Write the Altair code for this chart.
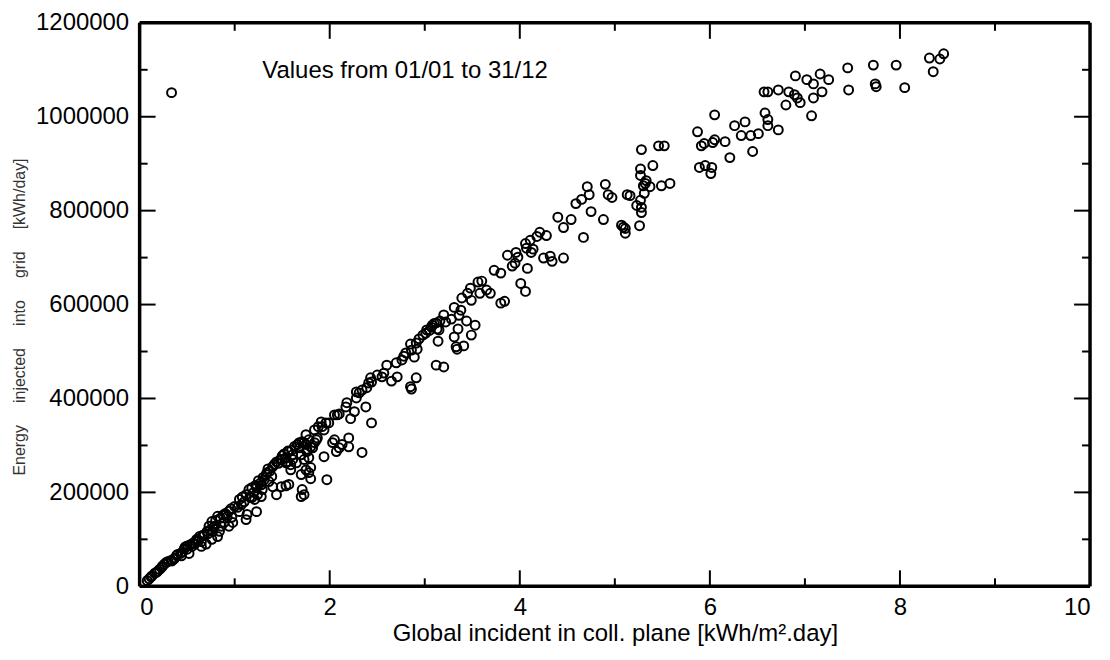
import altair as alt
import pandas as pd

# Global incident in collector plane [kWh/m2.day]
gi = [
    0.08, 0.10, 0.12, 0.13, 0.16, 0.18, 0.19, 0.21, 0.23, 0.24, 0.26, 0.28, 0.30, 0.33, 0.34, 0.36, 0.37,
    0.39, 0.40, 0.43, 0.44, 0.45, 0.47, 0.48, 0.50, 0.50, 0.52, 0.53, 0.55, 0.56, 0.58, 0.59, 0.60, 0.62,
    0.63, 0.65, 0.65, 0.66, 0.68, 0.70, 0.71, 0.72, 0.73, 0.74, 0.76, 0.76, 0.77, 0.78, 0.79, 0.80, 0.82,
    0.82, 0.84, 0.85, 0.86, 0.88, 0.89, 0.90, 0.91, 0.92, 0.94, 0.94, 0.96, 0.97, 0.98, 1.00,
    1.03, 1.05, 1.05, 1.07, 1.08, 1.10, 1.12, 1.12, 1.13, 1.15, 1.16, 1.18, 1.18, 1.20, 1.21, 1.22, 1.23,
    1.23, 1.24, 1.25, 1.27, 1.28, 1.28, 1.29, 1.30, 1.31, 1.33, 1.34, 1.35, 1.36, 1.37, 1.39, 1.40, 1.40,
    1.42, 1.44, 1.44, 1.46, 1.48, 1.49, 1.50, 1.50, 1.52, 1.54, 1.54, 1.54, 1.55, 1.56, 1.57, 1.57, 1.59,
    1.59, 1.60, 1.61, 1.61, 1.63, 1.65, 1.66, 1.68, 1.68, 1.70, 1.70, 1.70, 1.71, 1.71, 1.73, 1.73, 1.73,
    1.75, 1.75, 1.75, 1.76, 1.76, 1.78, 1.78, 1.78, 1.80, 1.80, 1.80, 1.82, 1.84, 1.84, 1.86, 1.87, 1.88,
    1.91, 1.92, 1.94, 1.94, 1.96, 1.97, 1.99,
    2.03, 2.05, 2.05, 2.07, 2.08, 2.10, 2.10, 2.13, 2.17, 2.18, 2.20, 2.20, 2.22, 2.26, 2.28, 2.28, 2.31,
    2.34, 2.34, 2.38, 2.39, 2.41, 2.43, 2.44, 2.44, 2.50, 2.55, 2.57, 2.60, 2.65, 2.70, 2.71, 2.76, 2.78,
    2.80, 2.85, 2.85, 2.86, 2.86, 2.89, 2.91, 2.91, 2.92, 2.94, 2.98,
    3.01, 3.02, 3.05, 3.07, 3.08, 3.10, 3.12, 3.12, 3.13, 3.14, 3.15, 3.16, 3.20, 3.20, 3.22, 3.28, 3.31,
    3.31, 3.33, 3.34, 3.35, 3.36, 3.38, 3.39, 3.41, 3.44, 3.45, 3.48, 3.49, 3.49, 3.53, 3.56, 3.58, 3.60,
    3.65, 3.69, 3.73, 3.80, 3.80, 3.84, 3.87, 3.92, 3.95, 3.96, 3.98,
    4.01, 4.06, 4.06, 4.07, 4.08, 4.11, 4.12, 4.14, 4.18, 4.21, 4.25, 4.28, 4.32, 4.34, 4.40, 4.46, 4.46,
    4.54, 4.59, 4.65, 4.67, 4.71, 4.73, 4.75, 4.88, 4.90, 4.93, 4.97,
    5.07, 5.09, 5.11, 5.11, 5.13, 5.16, 5.23, 5.26, 5.27, 5.27, 5.27, 5.28, 5.28, 5.28, 5.30, 5.31, 5.32,
    5.33, 5.37, 5.40, 5.46, 5.49, 5.52, 5.58, 5.87, 5.89, 5.91, 5.94, 5.95, 6.01, 6.02,
    6.03, 6.05, 6.05, 6.16, 6.21, 6.26, 6.33, 6.37, 6.43, 6.45, 6.51, 6.57, 6.58, 6.61, 6.61, 6.61, 6.72,
    6.72, 6.80, 6.83, 6.89, 6.90, 6.92, 6.95, 7.02, 7.07, 7.09, 7.09, 7.16, 7.18, 7.25, 7.45, 7.46, 7.72,
    7.74, 7.75, 7.96, 8.05, 8.31, 8.35, 8.42, 8.46,
]

# Energy injected into grid [kWh/day]
energy = [
    12000, 16000, 20000, 22000, 28000, 30000, 32000, 36000, 40000, 43000, 47000, 51000, 53000, 55000, 54000, 58000, 60000,
    66000, 68000, 70000, 65000, 73000, 80000, 84000, 79000, 86000, 70000, 88000, 85000, 92000, 90000, 96000, 100000, 98000,
    106000, 95000, 85000, 108000, 110000, 90000, 117000, 112000, 128000, 120000, 138000, 100000, 117000, 126000, 128000, 140000, 149000,
    106000, 117000, 145000, 128000, 152000, 136000, 155000, 153000, 148000, 128000, 160000, 165000, 147000, 136000, 170000,
    168000, 159000, 185000, 174000, 190000, 180000, 195000, 142000, 153000, 206000, 190000, 189000, 210000, 200000, 185000, 215000, 159000,
    210000, 195000, 225000, 220000, 216000, 191000, 206000, 232000, 227000, 238000, 242000, 250000, 223000, 245000, 234000, 212000, 255000,
    260000, 195000, 265000, 262000, 270000, 212000, 270000, 278000, 282000, 274000, 214000, 263000, 265000, 288000, 287000, 217000, 259000,
    248000, 290000, 280000, 270000, 298000, 263000, 302000, 306000, 295000, 280000, 238000, 191000, 308000, 206000, 195000, 270000, 306000,
    302000, 248000, 323000, 287000, 291000, 312000, 274000, 242000, 297000, 253000, 229000, 295000, 333000, 306000, 312000, 316000, 340000,
    350000, 340000, 333000, 276000, 348000, 227000, 348000,
    306000, 312000, 365000, 287000, 365000, 367000, 295000, 302000, 382000, 391000, 316000, 297000, 357000, 372000, 414000, 401000, 412000,
    418000, 285000, 382000, 423000, 433000, 444000, 435000, 348000, 450000, 446000, 454000, 471000, 437000, 476000, 446000, 482000, 490000,
    497000, 516000, 425000, 420000, 503000, 488000, 518000, 444000, 505000, 527000, 535000,
    539000, 546000, 545000, 552000, 556000, 560000, 561000, 471000, 548000, 522000, 546000, 565000, 578000, 467000, 563000, 569000, 594000,
    531000, 510000, 505000, 548000, 577000, 588000, 614000, 512000, 565000, 624000, 635000, 609000, 535000, 556000, 648000, 624000, 650000,
    631000, 624000, 673000, 667000, 603000, 607000, 705000, 682000, 688000, 711000, 701000,
    645000, 628000, 730000, 720000, 677000, 737000, 711000, 718000, 745000, 754000, 699000, 747000, 703000, 692000, 786000, 764000, 699000,
    781000, 815000, 824000, 743000, 851000, 834000, 798000, 781000, 856000, 834000, 828000,
    769000, 765000, 762000, 752000, 834000, 832000, 811000, 768000, 889000, 875000, 822000, 930000, 807000, 796000, 853000, 837000, 858000,
    864000, 851000, 896000, 938000, 853000, 938000, 858000, 968000, 892000, 938000, 943000, 896000, 879000, 892000,
    945000, 951000, 1004000, 947000, 913000, 981000, 960000, 989000, 960000, 926000, 964000, 1053000, 1008000, 1053000, 994000, 981000, 972000,
    1057000, 1025000, 1053000, 1047000, 1087000, 1040000, 1030000, 1079000, 1002000, 1070000, 1040000, 1091000, 1053000, 1079000, 1104000, 1057000, 1110000,
    1070000, 1064000, 1110000, 1062000, 1125000, 1096000, 1123000, 1134000,
]

x_major = [0, 2, 4, 6, 8, 10]
x_minor = [1, 3, 5, 7, 9]
y_major = [0, 200000, 400000, 600000, 800000, 1000000, 1200000]
y_minor = [100000, 300000, 500000, 700000, 900000, 1100000]

legend_text = "Values from 01/01 to 31/12"
x_title = "Global incident in coll. plane [kWh/m².day]"
sp = "\u00a0" * 5
y_title = f"Energy{sp}injected{sp}into{sp}grid{sp}[kWh/day]"

W, H = 953, 565
FONT = "Liberation Sans"

df = pd.DataFrame({"gi": gi, "e": energy})

x_enc = alt.X(
    "gi:Q",
    scale=alt.Scale(domain=[0, 10], nice=False, zero=False),
    axis=alt.Axis(
        values=x_major, format="d", ticks=False, domain=False, grid=False,
        labelFont=FONT, labelFontSize=24, labelColor="black", labelPadding=9,
        title=x_title, titleFont=FONT, titleFontSize=24, titleFontWeight="normal",
        titleColor="black", titleX=W / 2, titleY=47, titleBaseline="middle", titleAlign="center",
    ),
)
y_enc = alt.Y(
    "e:Q",
    scale=alt.Scale(domain=[0, 1200000], nice=False, zero=False),
    axis=alt.Axis(
        values=y_major, format="d", ticks=False, domain=False, grid=False,
        labelFont=FONT, labelFontSize=24, labelColor="black", labelPadding=11,
        title=y_title, titleFont=FONT, titleFontSize=16, titleFontWeight="normal",
        titleColor="#333333", titleAngle=270, titleX=-120, titleY=H / 2 + 12,
        titleBaseline="middle", titleAlign="center",
    ),
)

points = alt.Chart(df).mark_point(
    shape="circle", filled=False, color="black", strokeWidth=2, size=80, opacity=1
).encode(x=x_enc, y=y_enc)

RULE = dict(color="black", strokeWidth=2)

def xticks(vals, length):
    d = pd.DataFrame({"gi": vals})
    bottom = alt.Chart(d).mark_rule(**RULE).encode(
        x=x_enc, y=alt.value(H), y2=alt.value(H - length))
    top = alt.Chart(d).mark_rule(**RULE).encode(
        x=x_enc, y=alt.value(0), y2=alt.value(length))
    return [bottom, top]

def yticks(vals, length):
    d = pd.DataFrame({"e": vals})
    left = alt.Chart(d).mark_rule(**RULE).encode(
        y=y_enc, x=alt.value(0), x2=alt.value(length))
    right = alt.Chart(d).mark_rule(**RULE).encode(
        y=y_enc, x=alt.value(W), x2=alt.value(W - length))
    return [left, right]

one = pd.DataFrame({"t": [legend_text]})
FRAME = dict(color="black", strokeWidth=3.5)
frame = [
    alt.Chart(one).mark_rule(**FRAME).encode(x=alt.value(0), x2=alt.value(W), y=alt.value(0)),
    alt.Chart(one).mark_rule(**FRAME).encode(x=alt.value(0), x2=alt.value(W), y=alt.value(H)),
    alt.Chart(one).mark_rule(**FRAME).encode(y=alt.value(0), y2=alt.value(H), x=alt.value(0)),
    alt.Chart(one).mark_rule(**FRAME).encode(y=alt.value(0), y2=alt.value(H), x=alt.value(W)),
]

legend_pt = alt.Chart(one).mark_point(
    shape="circle", filled=False, color="black", strokeWidth=2, size=80, opacity=1
).encode(x=alt.value(32), y=alt.value(70))

legend_txt = alt.Chart(one).mark_text(
    font=FONT, fontSize=24, color="black", align="left", baseline="middle"
).encode(x=alt.value(123), y=alt.value(48), text="t:N")

layers = ([points] + xticks(x_major, 16) + xticks(x_minor, 8) + yticks(y_major, 16)
          + yticks(y_minor, 8) + frame + [legend_pt, legend_txt])

chart = alt.layer(*layers).properties(
    width=W, height=H,
    autosize=alt.AutoSizeParams(type="none"),
    padding={"left": 132, "top": 14, "right": 12, "bottom": 60},
).configure_view(stroke=None).configure(background="white")

chart.save("out.html", embed_options={"renderer": "svg", "actions": False})
